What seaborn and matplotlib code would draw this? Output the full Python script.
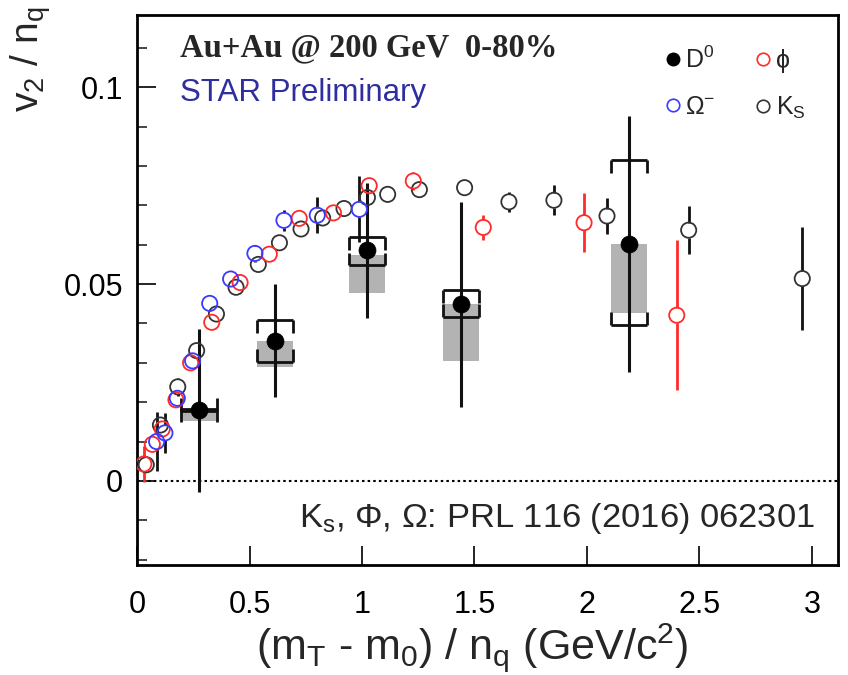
import numpy as np
import pandas as pd
import matplotlib
matplotlib.use("Agg")
import matplotlib.pyplot as plt
import seaborn as sns
from matplotlib.lines import Line2D
from matplotlib.ticker import MultipleLocator, FixedLocator, FixedFormatter

# ---------------- data ----------------
d0_x = [0.276, 0.613, 1.021, 1.439, 2.188]
d0_y = [0.0180, 0.0356, 0.0586, 0.0449, 0.0602]
d0_stat = [0.0207, 0.0144, 0.0171, 0.0260, 0.0326]
d0_box_lo = [0.0152, 0.0290, 0.0477, 0.0305, 0.0426]
d0_box_hi = [0.0175, 0.0356, 0.0575, 0.0449, 0.0602]
d0_sys_lo = [0.0178, 0.0302, 0.0548, 0.0417, 0.0396]
d0_sys_hi = [0.0182, 0.0409, 0.0619, 0.0485, 0.0815]

phi_x = [0.030, 0.068, 0.112, 0.173, 0.238, 0.332, 0.458, 0.588, 0.721, 0.873,
         1.032, 1.228, 1.539, 1.987, 2.399]
phi_y = [0.0043, 0.0093, 0.0132, 0.0206, 0.0300, 0.0403, 0.0504, 0.0576, 0.0667, 0.0681,
         0.0750, 0.0762, 0.0644, 0.0656, 0.0421]
phi_err = [0.0045, 0.0010, 0.0010, 0.0008, 0.0008, 0.0008, 0.0008, 0.0008, 0.0008, 0.0008,
           0.0010, 0.0022, 0.0031, 0.0075, 0.0190]

omg_x = [0.087, 0.124, 0.179, 0.247, 0.323, 0.416, 0.524, 0.653, 0.801, 0.988]
omg_y = [0.0100, 0.0122, 0.0210, 0.0305, 0.0451, 0.0513, 0.0578, 0.0662, 0.0675, 0.0690]
omg_err = [0.0076, 0.0050, 0.0010, 0.0010, 0.0010, 0.0010, 0.0021, 0.0027, 0.0046, 0.0084]

ks_x = [0.041, 0.104, 0.181, 0.265, 0.353, 0.440, 0.539, 0.633, 0.729, 0.825,
        0.920, 1.024, 1.114, 1.255, 1.456, 1.653, 1.853, 2.089, 2.452, 2.957]
ks_y = [0.0041, 0.0142, 0.0239, 0.0331, 0.0424, 0.0492, 0.0550, 0.0605, 0.0640, 0.0668,
        0.0692, 0.0720, 0.0728, 0.0740, 0.0745, 0.0709, 0.0713, 0.0673, 0.0637, 0.0514]
ks_err = [0.0005, 0.0008, 0.0022, 0.0006, 0.0006, 0.0006, 0.0006, 0.0006, 0.0006, 0.0006,
          0.0006, 0.0008, 0.0008, 0.0008, 0.0010, 0.0025, 0.0038, 0.0045, 0.0061, 0.0130]

x_ticks = [0, 0.5, 1, 1.5, 2, 2.5, 3]
x_tick_labels = ["0", "0.5", "1", "1.5", "2", "2.5", "3"]
y_ticks = [0, 0.05, 0.1]
y_tick_labels = ["0", "0.05", "0.1"]

# ---------------- style ----------------
sns.set_theme(style="ticks")
plt.rcParams["font.family"] = ["Liberation Sans", "DejaVu Sans"]
plt.rcParams["mathtext.fontset"] = "custom"
plt.rcParams["mathtext.rm"] = "Liberation Sans"
plt.rcParams["mathtext.it"] = "Liberation Sans:italic"
plt.rcParams["mathtext.default"] = "regular"

RED = "#ff2a2a"
BLUE = "#3a3aff"
BLACK = "#111111"
GRAY = "#b3b3b3"

fig = plt.figure(figsize=(8.48, 6.75), dpi=100)
ax = fig.add_axes([0.1616, 0.163, 0.8264, 0.815])

ax.set_xlim(0, 3.115)
ax.set_ylim(-0.02135, 0.1184)

# zero line
ax.axhline(0, color="black", lw=1.5, ls=(0, (1.2, 1.5)), zorder=0)

# D0 systematic boxes
d0_x_a = np.array(d0_x)
box_lo = np.array(d0_box_lo)
box_hi = np.array(d0_box_hi)
ax.bar(d0_x_a, box_hi - box_lo, bottom=box_lo, width=0.16, color=GRAY,
       edgecolor="none", zorder=1)

# D0 brackets
hw = 0.08
tick_len = 0.0032
ax.hlines(d0_sys_hi, d0_x_a - hw, d0_x_a + hw, color=BLACK, lw=2, zorder=2)
ax.hlines(d0_sys_lo, d0_x_a - hw, d0_x_a + hw, color=BLACK, lw=2, zorder=2)
for sx in (-hw, hw):
    ax.vlines(d0_x_a + sx, np.array(d0_sys_hi) - tick_len, d0_sys_hi, color=BLACK, lw=2, zorder=2)
    ax.vlines(d0_x_a + sx, d0_sys_lo, np.array(d0_sys_lo) + tick_len, color=BLACK, lw=2, zorder=2)

# D0 stat errors
ax.vlines(d0_x_a, np.array(d0_y) - np.array(d0_stat), np.array(d0_y) + np.array(d0_stat),
          color=BLACK, lw=2.2, zorder=3)

# open-marker species error bars (gap around marker)
gap = 0.0019
def err_with_gap(xs, ys, es, color):
    xs, ys, es = map(np.asarray, (xs, ys, es))
    m = es > gap
    ax.vlines(xs[m], ys[m] + gap, ys[m] + es[m], color=color, lw=2, zorder=3)
    ax.vlines(xs[m], ys[m] - es[m], ys[m] - gap, color=color, lw=2, zorder=3)

err_with_gap(phi_x, phi_y, phi_err, RED)
err_with_gap(omg_x, omg_y, omg_err, BLACK)
err_with_gap(ks_x, ks_y, ks_err, BLACK)

# markers via seaborn
def open_markers(xs, ys, color):
    df = pd.DataFrame({"x": xs, "y": ys})
    sns.scatterplot(data=df, x="x", y="y", ax=ax, s=120, color=color,
                    edgecolor=color, linewidth=1.3, zorder=4, legend=False)
    ax.collections[-1].set_facecolor("none")

open_markers(ks_x, ks_y, "#333333")
open_markers(phi_x, phi_y, RED)
open_markers(omg_x, omg_y, BLUE)

df_d0 = pd.DataFrame({"x": d0_x, "y": d0_y})
sns.scatterplot(data=df_d0, x="x", y="y", ax=ax, s=150, color="black",
                edgecolor="black", linewidth=0.5, zorder=5, legend=False)

# axes styling
for sp in ax.spines.values():
    sp.set_linewidth(2.0)
    sp.set_color("black")
ax.xaxis.set_major_locator(FixedLocator(x_ticks))
ax.xaxis.set_major_formatter(FixedFormatter(x_tick_labels))
ax.yaxis.set_major_locator(FixedLocator(y_ticks))
ax.yaxis.set_major_formatter(FixedFormatter(y_tick_labels))
ax.yaxis.set_minor_locator(MultipleLocator(0.01))
ax.tick_params(axis="x", which="major", direction="in", length=14, width=1.2,
               labelsize=22, pad=18, colors="black")
ax.tick_params(axis="y", which="major", direction="in", length=14, width=1.2,
               labelsize=22, pad=10, colors="black")
ax.tick_params(axis="y", which="minor", direction="in", length=7, width=1.2)
ax.set_xlabel("")
ax.set_ylabel("")

fig.text(0.557, 0.040, r"(m$_T$ - m$_0$) / n$_q$ (GeV/c$^2$)", ha="center", va="center",
         fontsize=31)
fig.text(0.036, 0.99, r"v$_2$ / n$_q$", rotation=90, ha="center", va="top", fontsize=28)

ax.text(0.061, 0.94, "Au+Au @ 200 GeV  0-80%", transform=ax.transAxes, ha="left",
        va="center", fontsize=23.5, fontweight="bold", family=["Liberation Serif"])
ax.text(0.061, 0.858, "STAR Preliminary", transform=ax.transAxes, ha="left", va="center",
        fontsize=22.5, color="#2e2e9e")
ax.text(0.967, 0.085, r"K$_s$, Φ, Ω: PRL 116 (2016) 062301", transform=ax.transAxes,
        ha="right", va="center", fontsize=24.8)

handles = [
    Line2D([], [], marker="o", ls="none", color="black", markersize=9, label=r"D$^0$"),
    Line2D([], [], marker="o", ls="none", markerfacecolor="none", markeredgecolor=BLUE,
           markersize=9, markeredgewidth=1.2, label=r"Ω$^{-}$"),
    Line2D([], [], marker="o", ls="none", markerfacecolor="none", markeredgecolor=RED,
           markersize=9, markeredgewidth=1.2, label="ϕ"),
    Line2D([], [], marker="o", ls="none", markerfacecolor="none", markeredgecolor="#333333",
           markersize=9, markeredgewidth=1.2, label=r"K$_S$"),
]
ax.legend(handles=handles, ncol=2, loc="upper left", bbox_to_anchor=(0.729, 0.975),
          frameon=False, fontsize=18, handlelength=0.6, handletextpad=0.2,
          columnspacing=1.6, labelspacing=0.9, borderpad=0.2)

fig.savefig("out.png", dpi=100)
